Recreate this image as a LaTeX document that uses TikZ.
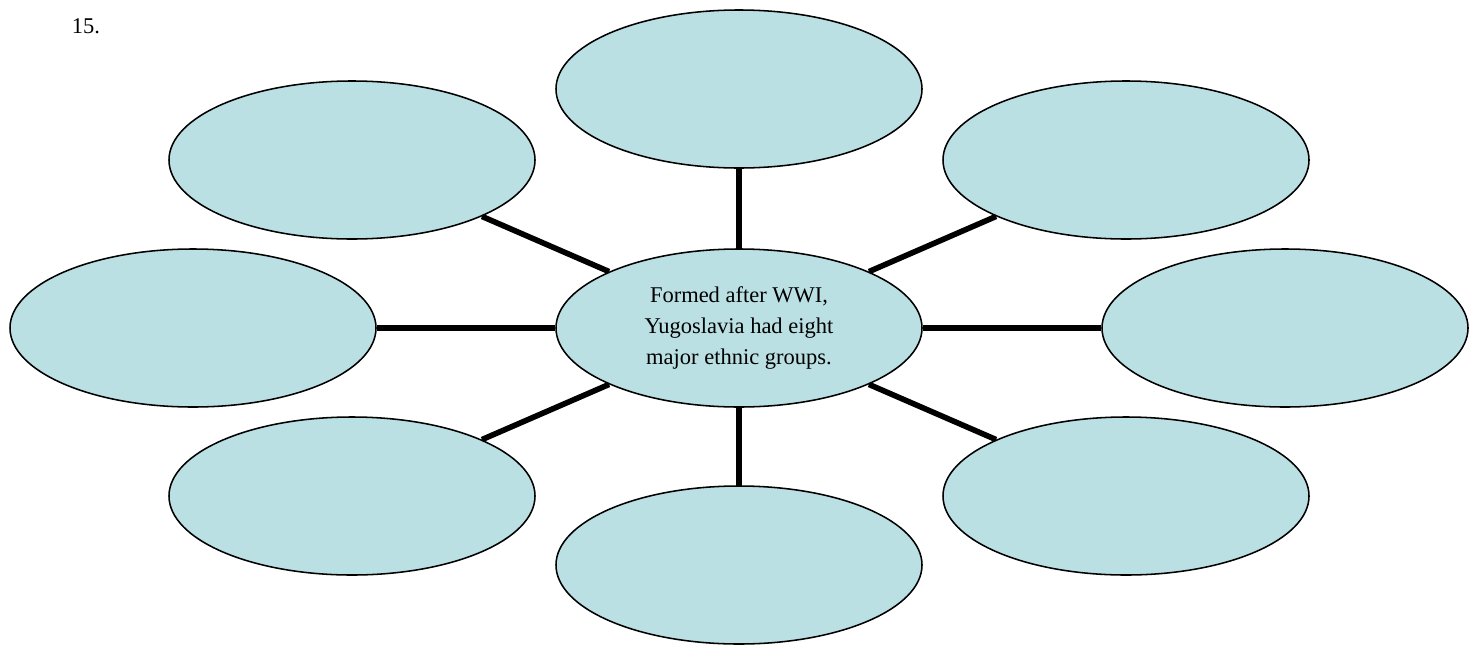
\documentclass[tikz,border=0pt]{standalone}
\usepackage{fontspec}
\setmainfont{Liberation Serif}
\usetikzlibrary{shapes.geometric}
\definecolor{bubblefill}{RGB}{186,224,228}
\tikzset{
	bubble/.style={ellipse, draw=black, line width=1.1pt, fill=bubblefill,
		minimum width=91.5mm, minimum height=39.5mm, inner sep=0pt,
		align=center, font=\fontsize{16}{22}\selectfont},
	spoke/.style={line width=4pt}
}

\begin{document}
\begin{tikzpicture}[x=0.25mm, y=-0.25mm]
				\useasboundingbox (0,0) rectangle (1478,644);
				
				\node[anchor=base west, font=\fontsize{16}{18}\selectfont] (num) at (67,33) {15.};
				
				\node[bubble] (hub) at (739,328) {Formed after WWI,\\Yugoslavia had eight\\major ethnic groups.};
				
				\node[bubble] (top) at (739,89) {};
				\node[bubble] (bottom) at (739,565) {};
				\node[bubble] (left) at (193,328) {};
				\node[bubble] (right) at (1285,328) {};
				\node[bubble] (upleft) at (352,160) {};
				\node[bubble] (upright) at (1126,160) {};
				\node[bubble] (lowleft) at (352,496) {};
				\node[bubble] (lowright) at (1126,496) {};
				
				\draw[spoke] (hub) -- (top);
				\draw[spoke] (hub) -- (bottom);
				\draw[spoke] (hub) -- (left);
				\draw[spoke] (hub) -- (right);
				\draw[spoke] (hub) -- (upleft);
				\draw[spoke] (hub) -- (upright);
				\draw[spoke] (hub) -- (lowleft);
				\draw[spoke] (hub) -- (lowright);
			\end{tikzpicture}
\end{document}
